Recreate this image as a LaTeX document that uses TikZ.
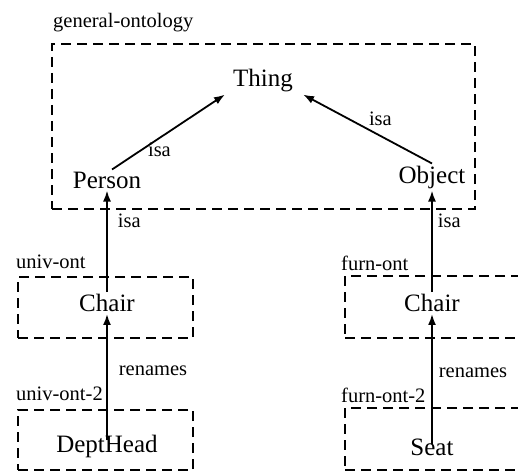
\documentclass[tikz,border=0pt]{standalone}
\usepackage{fontspec}
\setmainfont{Liberation Serif}
\usetikzlibrary{arrows.meta}
\tikzset{
  x=1pt, y=-1pt,
  term/.style={inner sep=2pt, font=\fontsize{25}{30}\selectfont},
  lbl/.style={inner sep=1pt, font=\fontsize{20.5}{24}\selectfont},
  boxnode/.style={draw, line width=2.1pt, dash pattern=on 10pt off 6pt, inner sep=0pt},
  rel/.style={line width=1.8pt, -{Latex[length=11pt,width=8pt]}},
}
\begin{document}
\begin{tikzpicture}
\useasboundingbox (0,0) rectangle (518,473);
% boxes
\node[boxnode, minimum width=423pt, minimum height=165pt] (gbox) at (263.5,126.5) {};
\node[boxnode, minimum width=175pt, minimum height=61pt] (ubox) at (105.5,307.5) {};
\node[boxnode, minimum width=175pt, minimum height=60pt] (u2box) at (105.5,440) {};
\node[boxnode, minimum width=185pt, minimum height=62pt] (fbox) at (437.5,307) {};
\node[boxnode, minimum width=185pt, minimum height=62pt] (f2box) at (437.5,439) {};
% box labels
\node[lbl, anchor=base west] (gl) at (52,28) {general-ontology};
\node[lbl, anchor=base west] (ul) at (15,268) {univ-ont};
\node[lbl, anchor=base west] (u2l) at (15,400) {univ-ont-2};
\node[lbl, anchor=base west] (fl) at (340,270) {furn-ont};
\node[lbl, anchor=base west] (f2l) at (340,402) {furn-ont-2};
% terms
\node[term] (thing) at (263,81) {Thing};
\node[term] (person) at (107,180) {Person};
\node[term] (object) at (432,177) {Object};
\node[term] (chairU) at (107,303) {Chair};
\node[term] (chairF) at (432,303) {Chair};
\node[term] (dept) at (107,446) {DeptHead};
\node[term] (seat) at (432,447) {Seat};
% relations
\draw[rel] ([xshift=5pt]person.north) -- ([xshift=-6pt]thing.south west)
  node[lbl, pos=0.42, below, yshift=-3pt] (i1) {isa};
\draw[rel] (object.north) -- ([xshift=8pt]thing.south east)
  node[lbl, pos=0.4, above, yshift=8pt] (i2) {isa};
\draw[rel] (chairU.north) -- (person.south)
  node[lbl, pos=0.7, right, xshift=9pt] (i3) {isa};
\draw[rel] (chairF.north) -- (object.south)
  node[lbl, pos=0.7, right, xshift=4pt] (i4) {isa};
\draw[rel] ([yshift=-8pt]dept.north) -- (chairU.south)
  node[lbl, pos=0.55, right, xshift=10pt] (r1) {renames};
\draw[rel] ([yshift=-8pt]seat.north) -- (chairF.south)
  node[lbl, pos=0.55, right, xshift=5pt] (r2) {renames};
\end{tikzpicture}
\end{document}
